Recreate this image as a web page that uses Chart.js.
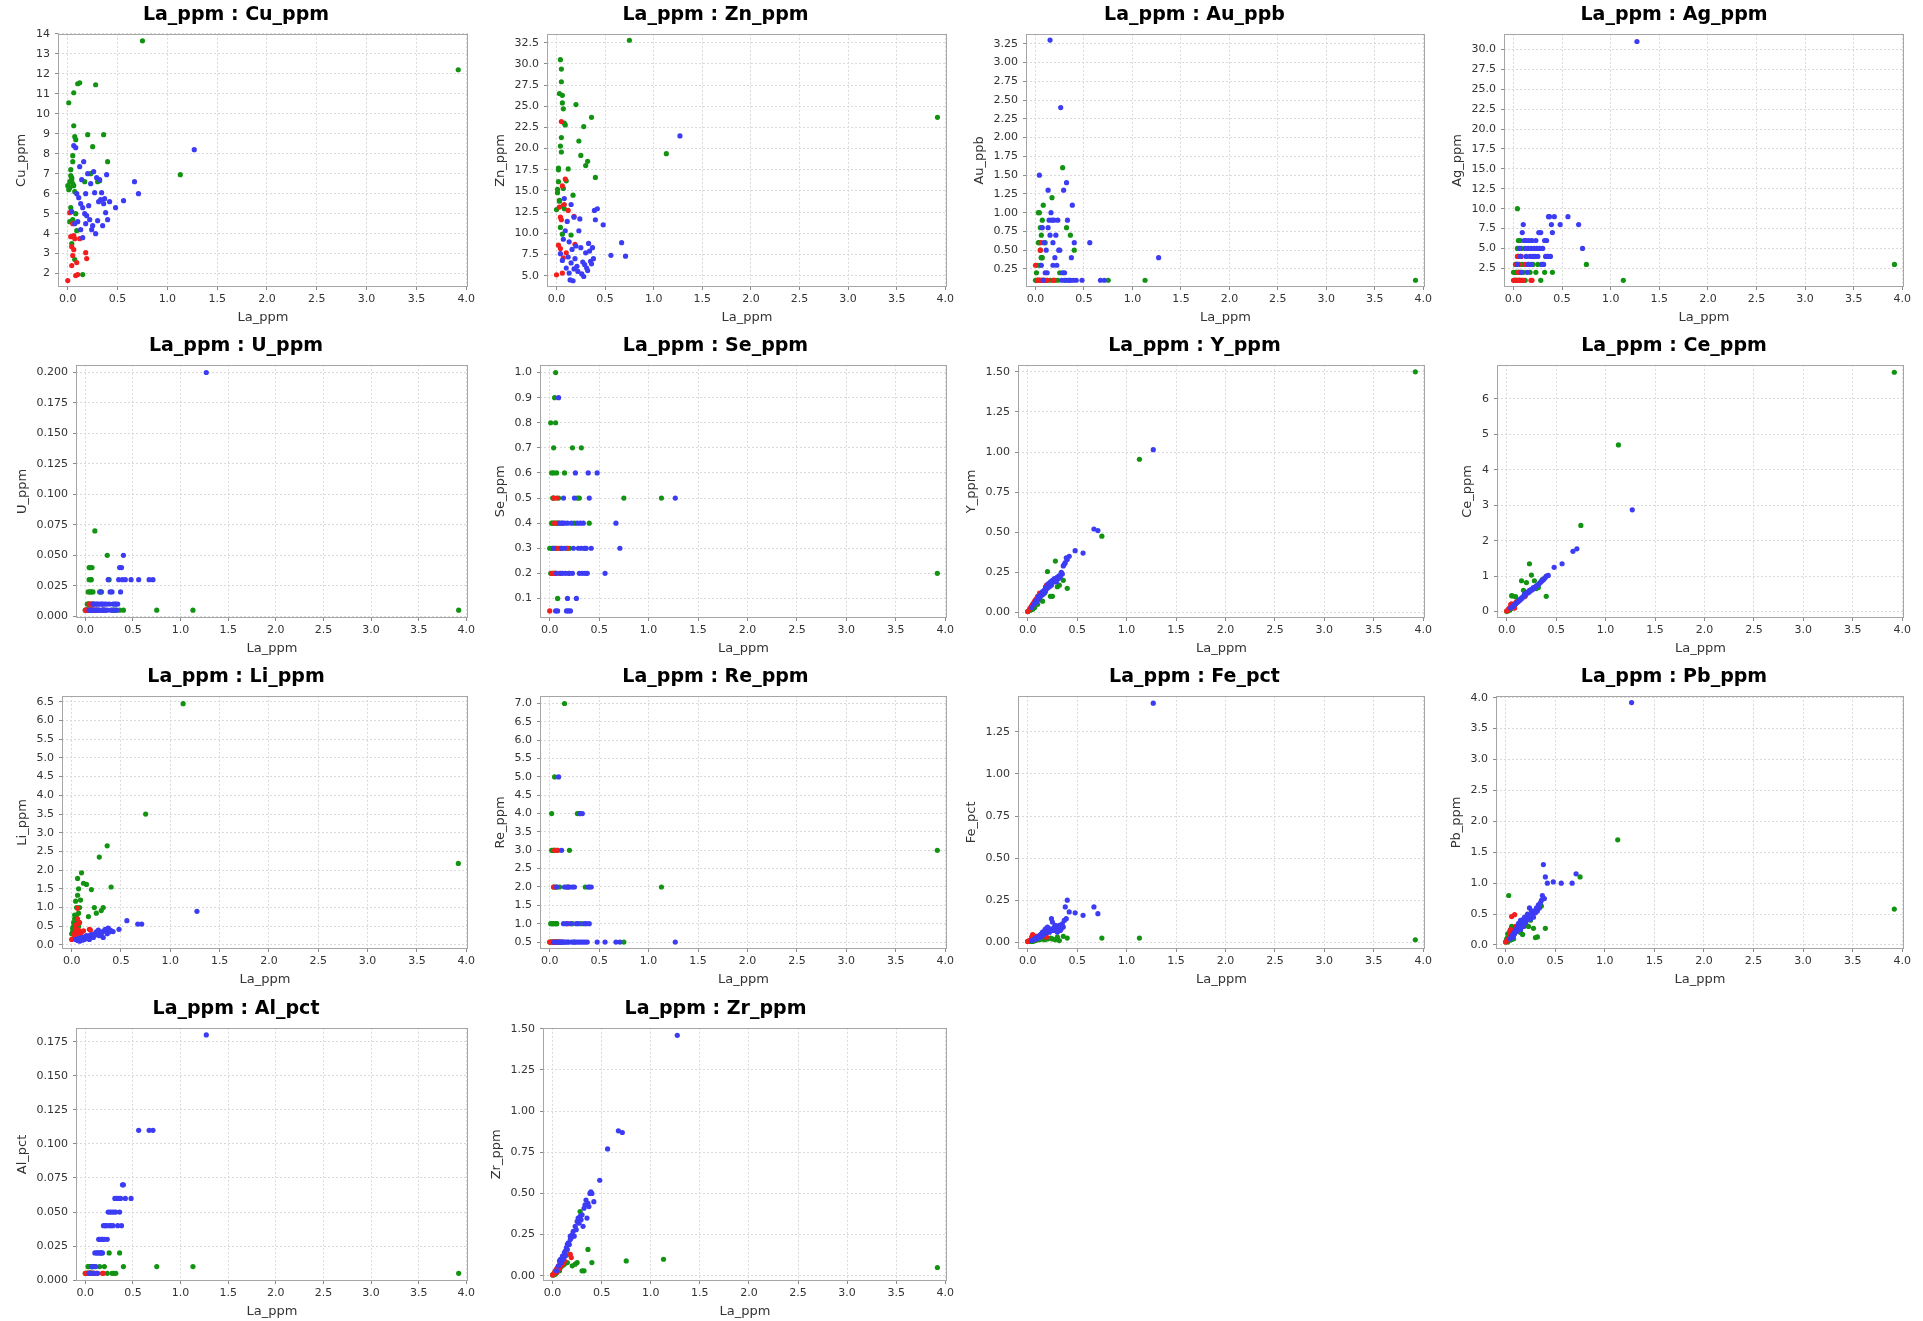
<!DOCTYPE html>
<html>
<head>
<meta charset="utf-8">
<title>La_ppm scatter panels</title>
<script src="https://cdn.jsdelivr.net/npm/chart.js@4.4.1/dist/chart.umd.min.js"></script>
<style>
  html, body { margin: 0; padding: 0; background: #fff; }
  #page { position: relative; width: 1923px; height: 1321px; overflow: hidden; background: #fff; }
  #page canvas { position: absolute; }
</style>
</head>
<body>
<div id="page"></div>
<script>
// La_ppm of each sample, by group
var laGreen = [3.92, 1.13, 0.75, 0.01, 0.02, 0.03, 0.03, 0.04, 0.04, 0.05, 0.05, 0.05, 0.06, 0.06, 0.07, 0.07, 0.08, 0.09, 0.10, 0.12, 0.15, 0.17, 0.20, 0.23, 0.25, 0.28, 0.30, 0.32, 0.36, 0.40, 0.00, 0.01, 0.02, 0.02, 0.03, 0.04, 0.05, 0.06, 0.07, 0.08];
var laBlue = [1.27, 0.71, 0.67, 0.56, 0.48, 0.04, 0.06, 0.07, 0.08, 0.09, 0.10, 0.11, 0.12, 0.13, 0.13, 0.14, 0.15, 0.15, 0.16, 0.17, 0.18, 0.18, 0.19, 0.20, 0.21, 0.22, 0.23, 0.24, 0.25, 0.26, 0.27, 0.28, 0.29, 0.30, 0.31, 0.32, 0.33, 0.34, 0.35, 0.36, 0.37, 0.38, 0.39, 0.40, 0.42];
var laRed = [0.00, 0.02, 0.03, 0.04, 0.04, 0.05, 0.05, 0.06, 0.06, 0.07, 0.08, 0.09, 0.10, 0.12, 0.18, 0.19];

var cuGreen = [12.2, 6.95, 13.65, 10.55, 6.3, 7.2, 5.3, 6.8, 3.5, 7.9, 6.5, 4.7, 11.05, 9.4, 8.85, 2.7, 8.7, 4.15, 11.5, 11.55, 1.95, 6.6, 8.95, 7.0, 8.35, 11.45, 6.6, 6.65, 8.95, 7.6, 6.4, 6.2, 6.6, 4.6, 6.9, 6.7, 7.6, 6.4, 6.1, 5.0];
var cuBlue = [8.2, 6.0, 6.6, 5.65, 5.3, 5.1, 8.4, 4.5, 8.3, 6.0, 4.6, 5.8, 7.35, 4.2, 5.5, 6.7, 5.3, 3.8, 7.6, 5.0, 4.5, 6.0, 4.9, 7.0, 5.4, 4.7, 6.5, 4.2, 4.4, 7.1, 6.05, 4.0, 6.8, 4.65, 5.6, 6.7, 5.7, 6.05, 4.4, 5.5, 5.75, 5.05, 6.95, 4.7, 5.6];
var cuRed = [1.65, 5.05, 3.85, 2.4, 3.35, 2.9, 4.5, 3.9, 3.2, 3.75, 1.9, 2.55, 1.95, 3.75, 3.05, 2.75];

var znGreen = [23.7, 19.4, 32.8, 15.2, 17.7, 26.5, 13.8, 30.5, 20.3, 29.4, 27.9, 19.6, 26.3, 25.4, 24.7, 13.3, 23.0, 22.8, 16.2, 17.6, 9.8, 14.5, 25.2, 20.9, 19.2, 22.6, 18.0, 18.5, 23.7, 16.6, 12.8, 14.8, 16.1, 17.5, 13.9, 10.7, 21.3, 9.9, 15.3, 12.9];
var znBlue = [21.5, 7.3, 8.9, 7.4, 11.0, 7.6, 6.8, 9.3, 14.1, 10.3, 5.9, 11.4, 7.2, 5.3, 9.0, 4.5, 13.4, 6.5, 8.1, 4.4, 11.9, 5.8, 7.0, 8.5, 6.1, 5.5, 10.3, 11.7, 8.3, 5.2, 6.6, 4.9, 6.3, 7.7, 5.9, 5.6, 8.8, 7.9, 6.7, 6.4, 8.3, 7.0, 12.7, 11.6, 12.9];
var znRed = [5.1, 8.6, 13.1, 11.9, 8.2, 11.6, 23.2, 15.6, 5.3, 7.1, 13.4, 16.4, 7.7, 12.7, 12.0, 8.7];

var auGreen = [0.1, 0.1, 0.1, 0.2, 0.1, 1.0, 0.1, 0.6, 1.0, 0.8, 0.3, 0.5, 0.7, 0.4, 0.9, 0.4, 1.1, 0.1, 0.6, 0.1, 0.1, 1.2, 0.1, 0.1, 0.2, 1.6, 0.1, 0.8, 0.7, 0.5, 0.1, 0.1, 0.3, 0.1, 0.6, 0.1, 0.1, 0.4, 0.1, 0.1];
var auBlue = [0.4, 0.1, 0.1, 0.6, 0.1, 1.5, 0.3, 0.8, 0.1, 0.6, 0.2, 0.5, 0.2, 1.3, 0.8, 0.9, 0.7, 3.3, 1.0, 0.9, 0.3, 0.6, 0.9, 0.4, 0.7, 0.3, 0.9, 0.5, 0.5, 2.4, 0.1, 0.2, 1.3, 0.2, 0.1, 1.4, 0.9, 0.1, 0.1, 0.1, 0.4, 1.1, 0.1, 0.6, 0.1];
var auRed = [0.3, 0.1, 0.1, 0.1, 0.1, 0.5, 0.1, 0.1, 0.6, 0.1, 0.1, 0.1, 0.1, 0.1, 0.1, 0.1];

var agGreen = [3, 1, 3, 1, 2, 3, 1, 10, 5, 6, 2, 4, 3, 1, 4, 2, 1, 3, 2, 1, 3, 2, 3, 2, 3, 1, 3, 2, 4, 2, 2, 1, 3, 1, 2, 1, 4, 2, 6, 5];
var agBlue = [31, 5, 8, 9, 8, 3, 5, 4, 2, 7, 8, 6, 5, 4, 6, 2, 5, 3, 6, 4, 5, 3, 6, 4, 5, 4, 6, 5, 4, 7, 5, 7, 3, 5, 3, 6, 4, 6, 4, 9, 9, 4, 8, 7, 9];
var agRed = [1, 1, 3, 4, 1, 2, 3, 1, 1, 1, 4, 1, 1, 3, 1, 1];

var uGreen = [0.005, 0.005, 0.005, 0.005, 0.005, 0.01, 0.005, 0.03, 0.04, 0.02, 0.04, 0.01, 0.03, 0.02, 0.04, 0.005, 0.02, 0.01, 0.07, 0.005, 0.02, 0.02, 0.005, 0.05, 0.03, 0.005, 0.005, 0.005, 0.005, 0.005, 0.005, 0.005, 0.01, 0.005, 0.02, 0.01, 0.005, 0.03, 0.005, 0.01];
var uBlue = [0.2, 0.03, 0.03, 0.03, 0.03, 0.005, 0.005, 0.005, 0.01, 0.005, 0.01, 0.005, 0.01, 0.005, 0.01, 0.005, 0.01, 0.005, 0.02, 0.01, 0.005, 0.01, 0.005, 0.01, 0.005, 0.01, 0.005, 0.03, 0.01, 0.02, 0.005, 0.02, 0.01, 0.005, 0.01, 0.01, 0.005, 0.01, 0.03, 0.04, 0.02, 0.04, 0.03, 0.05, 0.03];
var uRed = [0.005, 0.005, 0.005, 0.005, 0.01, 0.005, 0.005, 0.01, 0.005, 0.01, 0.005, 0.005, 0.005, 0.005, 0.005, 0.005];

var seGreen = [0.2, 0.5, 0.5, 0.8, 0.3, 0.4, 0.5, 0.7, 0.6, 0.9, 0.3, 0.2, 1.0, 0.8, 0.6, 0.4, 0.1, 0.5, 0.3, 0.4, 0.6, 0.3, 0.3, 0.7, 0.4, 0.5, 0.5, 0.7, 0.3, 0.4, 0.3, 0.2, 0.4, 0.6, 0.3, 0.5, 0.4, 0.2, 0.3, 0.4];
var seBlue = [0.5, 0.3, 0.4, 0.2, 0.6, 0.3, 0.05, 0.2, 0.05, 0.9, 0.4, 0.2, 0.3, 0.4, 0.2, 0.5, 0.3, 0.4, 0.2, 0.05, 0.1, 0.4, 0.05, 0.2, 0.05, 0.4, 0.2, 0.3, 0.5, 0.6, 0.1, 0.4, 0.3, 0.2, 0.4, 0.3, 0.2, 0.4, 0.3, 0.2, 0.3, 0.2, 0.6, 0.5, 0.3];
var seRed = [0.05, 0.2, 0.2, 0.2, 0.5, 0.2, 0.4, 0.2, 0.3, 0.5, 0.3, 0.4, 0.2, 0.3, 0.3, 0.2];

var yGreen = [1.5, 0.955, 0.475, 0.01, 0.015, 0.02, 0.015, 0.03, 0.02, 0.025, 0.03, 0.02, 0.04, 0.03, 0.035, 0.03, 0.05, 0.06, 0.05, 0.08, 0.07, 0.12, 0.255, 0.10, 0.10, 0.32, 0.16, 0.17, 0.2, 0.15, 0.005, 0.01, 0.015, 0.02, 0.02, 0.03, 0.035, 0.04, 0.05, 0.06];
var yBlue = [1.015, 0.51, 0.52, 0.37, 0.385, 0.03, 0.05, 0.055, 0.07, 0.065, 0.08, 0.1, 0.09, 0.11, 0.1, 0.12, 0.13, 0.11, 0.12, 0.14, 0.13, 0.15, 0.16, 0.15, 0.18, 0.16, 0.19, 0.17, 0.2, 0.19, 0.21, 0.2, 0.19, 0.22, 0.21, 0.23, 0.22, 0.25, 0.24, 0.29, 0.3, 0.31, 0.34, 0.33, 0.35];
var yRed = [0.005, 0.02, 0.03, 0.04, 0.035, 0.05, 0.045, 0.06, 0.05, 0.07, 0.08, 0.085, 0.1, 0.12, 0.16, 0.17];

var ceGreen = [6.75, 4.7, 2.43, 0.02, 0.05, 0.06, 0.04, 0.08, 0.1, 0.12, 0.45, 0.1, 0.15, 0.44, 0.18, 0.12, 0.2, 0.42, 0.25, 0.3, 0.87, 0.6, 0.82, 1.35, 1.03, 0.87, 0.65, 0.68, 0.9, 0.43, 0.01, 0.03, 0.05, 0.06, 0.08, 0.1, 0.12, 0.13, 0.16, 0.18];
var ceBlue = [2.87, 1.77, 1.7, 1.35, 1.25, 0.1, 0.14, 0.17, 0.2, 0.22, 0.25, 0.27, 0.3, 0.33, 0.31, 0.35, 0.38, 0.36, 0.4, 0.43, 0.45, 0.5, 0.48, 0.52, 0.55, 0.53, 0.6, 0.58, 0.63, 0.62, 0.68, 0.66, 0.7, 0.72, 0.74, 0.76, 0.8, 0.82, 0.85, 0.88, 0.9, 0.93, 0.96, 1.0, 1.02];
var ceRed = [0.02, 0.08, 0.1, 0.12, 0.2, 0.15, 0.22, 0.18, 0.14, 0.2, 0.1, 0.25, 0.28, 0.3, 0.42, 0.45];

var liGreen = [2.18, 6.45, 3.5, 0.35, 0.5, 0.8, 0.6, 1.17, 0.7, 0.5, 1.0, 0.4, 1.78, 1.33, 1.5, 0.85, 0.6, 1.2, 1.93, 1.65, 1.62, 0.76, 1.48, 1.0, 0.85, 2.35, 0.92, 1.0, 2.65, 1.55, 0.3, 0.45, 0.6, 0.35, 0.7, 0.55, 0.8, 0.65, 0.5, 1.0];
var liBlue = [0.9, 0.56, 0.56, 0.65, 0.42, 0.15, 0.12, 0.18, 0.1, 0.15, 0.2, 0.13, 0.17, 0.22, 0.15, 0.2, 0.18, 0.25, 0.22, 0.19, 0.25, 0.15, 0.22, 0.28, 0.25, 0.2, 0.3, 0.27, 0.35, 0.3, 0.4, 0.25, 0.33, 0.3, 0.35, 0.2, 0.38, 0.42, 0.4, 0.3, 0.45, 0.35, 0.4, 0.38, 0.36];
var liRed = [0.15, 0.3, 0.25, 0.45, 0.35, 0.55, 0.3, 0.98, 0.7, 0.4, 0.6, 0.3, 0.35, 0.38, 0.42, 0.4];

var reGreen = [3, 2, 0.5, 0.5, 4, 1, 3, 0.5, 3, 2, 5, 1, 3, 0.5, 2, 1, 3, 0.5, 2, 0.5, 7, 2, 3, 1, 0.5, 4, 4, 1, 2, 2, 0.5, 1, 0.5, 3, 1, 2, 3, 0.5, 1, 0.5];
var reBlue = [0.5, 0.5, 0.5, 0.5, 0.5, 0.5, 0.5, 2, 0.5, 5, 0.5, 0.5, 3, 0.5, 0.5, 1, 0.5, 2, 0.5, 1, 0.5, 2, 0.5, 2, 1, 0.5, 2, 0.5, 2, 0.5, 1, 0.5, 1, 0.5, 4, 0.5, 4, 0.5, 1, 0.5, 1, 0.5, 2, 1, 2];
var reRed = [0.5, 0.5, 0.5, 2, 0.5, 0.5, 3, 0.5, 0.5, 0.5, 3, 0.5, 0.5, 0.5, 1, 2];

var feGreen = [0.015, 0.025, 0.025, 0.005, 0.01, 0.005, 0.01, 0.01, 0.005, 0.015, 0.01, 0.005, 0.01, 0.015, 0.02, 0.01, 0.01, 0.015, 0.02, 0.015, 0.02, 0.015, 0.02, 0.025, 0.02, 0.015, 0.03, 0.01, 0.035, 0.025, 0.005, 0.005, 0.01, 0.005, 0.01, 0.01, 0.015, 0.01, 0.02, 0.015];
var feBlue = [1.42, 0.17, 0.21, 0.16, 0.175, 0.01, 0.015, 0.02, 0.025, 0.02, 0.03, 0.035, 0.04, 0.03, 0.045, 0.05, 0.04, 0.06, 0.05, 0.07, 0.06, 0.08, 0.055, 0.09, 0.07, 0.06, 0.08, 0.14, 0.12, 0.07, 0.09, 0.1, 0.08, 0.06, 0.09, 0.1, 0.07, 0.08, 0.11, 0.09, 0.13, 0.21, 0.14, 0.25, 0.18];
var feRed = [0.005, 0.01, 0.015, 0.02, 0.03, 0.045, 0.02, 0.04, 0.025, 0.03, 0.02, 0.035, 0.03, 0.03, 0.04, 0.03];

var pbGreen = [0.58, 1.7, 1.1, 0.1, 0.05, 0.15, 0.8, 0.2, 0.1, 0.12, 0.25, 0.08, 0.3, 0.18, 0.2, 0.1, 0.15, 0.28, 0.22, 0.3, 0.2, 0.17, 0.35, 0.3, 0.4, 0.27, 0.12, 0.13, 0.63, 0.27, 0.05, 0.08, 0.12, 0.18, 0.1, 0.22, 0.15, 0.25, 0.2, 0.1];
var pbBlue = [3.92, 1.15, 1.0, 1.0, 1.02, 0.1, 0.15, 0.12, 0.2, 0.18, 0.25, 0.22, 0.3, 0.27, 0.35, 0.3, 0.4, 0.25, 0.38, 0.33, 0.42, 0.3, 0.45, 0.36, 0.4, 0.5, 0.45, 0.6, 0.42, 0.55, 0.5, 0.45, 0.55, 0.52, 0.6, 0.55, 0.65, 0.6, 0.68, 0.72, 0.8, 1.3, 0.75, 1.1, 1.0];
var pbRed = [0.05, 0.08, 0.1, 0.15, 0.2, 0.12, 0.25, 0.46, 0.18, 0.2, 0.22, 0.49, 0.3, 0.25, 0.3, 0.35];

var alGreen = [0.005, 0.01, 0.01, 0.005, 0.005, 0.005, 0.01, 0.005, 0.005, 0.005, 0.01, 0.005, 0.005, 0.01, 0.005, 0.005, 0.01, 0.005, 0.01, 0.005, 0.01, 0.02, 0.01, 0.005, 0.02, 0.005, 0.005, 0.005, 0.02, 0.01, 0.005, 0.005, 0.005, 0.005, 0.01, 0.005, 0.005, 0.005, 0.01, 0.005];
var alBlue = [0.18, 0.11, 0.11, 0.11, 0.06, 0.005, 0.005, 0.01, 0.01, 0.005, 0.02, 0.01, 0.02, 0.005, 0.02, 0.03, 0.02, 0.03, 0.02, 0.03, 0.02, 0.03, 0.04, 0.03, 0.04, 0.04, 0.03, 0.05, 0.04, 0.05, 0.04, 0.05, 0.04, 0.05, 0.06, 0.05, 0.06, 0.04, 0.06, 0.05, 0.06, 0.04, 0.07, 0.07, 0.06];
var alRed = [0.005, 0.005, 0.005, 0.005, 0.005, 0.005, 0.005, 0.005, 0.005, 0.005, 0.005, 0.005, 0.005, 0.005, 0.005, 0.005];

var zrGreen = [0.05, 0.1, 0.09, 0.005, 0.01, 0.02, 0.01, 0.03, 0.02, 0.04, 0.05, 0.03, 0.05, 0.04, 0.06, 0.03, 0.05, 0.07, 0.06, 0.07, 0.08, 0.13, 0.06, 0.07, 0.08, 0.39, 0.03, 0.03, 0.16, 0.08, 0.005, 0.01, 0.02, 0.015, 0.03, 0.02, 0.04, 0.03, 0.05, 0.06];
var zrBlue = [1.46, 0.87, 0.88, 0.77, 0.58, 0.03, 0.06, 0.09, 0.1, 0.08, 0.12, 0.1, 0.14, 0.15, 0.12, 0.17, 0.19, 0.16, 0.2, 0.19, 0.22, 0.24, 0.23, 0.25, 0.27, 0.24, 0.3, 0.28, 0.33, 0.35, 0.32, 0.36, 0.34, 0.37, 0.3, 0.41, 0.43, 0.46, 0.35, 0.44, 0.42, 0.5, 0.51, 0.5, 0.45];
var zrRed = [0.005, 0.02, 0.03, 0.04, 0.02, 0.05, 0.03, 0.06, 0.04, 0.05, 0.08, 0.06, 0.07, 0.09, 0.13, 0.11];

var panels = [
  { name: 'Cu_ppm', g: cuGreen, b: cuBlue, r: cuRed },
  { name: 'Zn_ppm', g: znGreen, b: znBlue, r: znRed },
  { name: 'Au_ppb', g: auGreen, b: auBlue, r: auRed },
  { name: 'Ag_ppm', g: agGreen, b: agBlue, r: agRed },
  { name: 'U_ppm', g: uGreen, b: uBlue, r: uRed },
  { name: 'Se_ppm', g: seGreen, b: seBlue, r: seRed },
  { name: 'Y_ppm', g: yGreen, b: yBlue, r: yRed },
  { name: 'Ce_ppm', g: ceGreen, b: ceBlue, r: ceRed },
  { name: 'Li_ppm', g: liGreen, b: liBlue, r: liRed },
  { name: 'Re_ppm', g: reGreen, b: reBlue, r: reRed },
  { name: 'Fe_pct', g: feGreen, b: feBlue, r: feRed },
  { name: 'Pb_ppm', g: pbGreen, b: pbBlue, r: pbRed },
  { name: 'Al_pct', g: alGreen, b: alBlue, r: alRed },
  { name: 'Zr_ppm', g: zrGreen, b: zrBlue, r: zrRed }
];

// y axis: min, max, tick step, decimals
var yAxes = [
  [1.33, 14.0, 1, 0], [3.66, 33.56, 2.5, 1], [0.01, 3.383, 0.25, 2], [0.16, 31.97, 2.5, 1],
  [-0.0014, 0.2063, 0.025, 3], [0.022, 1.031, 0.1, 1], [-0.035, 1.544, 0.25, 2], [-0.18, 6.96, 1, 0],
  [-0.107, 6.66, 0.5, 1], [0.31, 7.21, 0.5, 1], [-0.04, 1.464, 0.25, 2], [-0.065, 4.03, 0.5, 1],
  [-0.0006, 0.1852, 0.025, 3], [-0.032, 1.506, 0.25, 2]
];
var xAxis = [-0.098, 4.018, 0.5, 1];

// grid of panels
var colX = [0, 480, 960, 1440];
var rowY = [0, 331, 662, 994];
var colRight = [468, 467, 465, 464];
var plotLeft = [58, 67, 66, 64, 76, 60, 58, 57, 62, 60, 58, 56, 76, 63];
var cellW = 481, cellH = 328, padLeft = 4;

var colors = { g: '#129412', b: '#3c3cf5', r: '#f41e1e' };

Chart.defaults.font.family = 'DejaVu Sans';

function tickValues(min, max, step) {
  var out = [];
  for (var k = Math.ceil(min / step - 1e-6); k * step <= max + step * 1e-6; k++) {
    out.push(k * step);
  }
  return out;
}

var measureCtx = document.createElement('canvas').getContext('2d');
measureCtx.font = '11px "DejaVu Sans"';
function labelWidth(ax) {
  var w = 0;
  tickValues(ax[0], ax[1], ax[2]).forEach(function (v) {
    w = Math.max(w, measureCtx.measureText(v.toFixed(ax[3])).width);
  });
  return w;
}

function series(la, vals, color) {
  return {
    data: la.map(function (x, k) { return { x: x, y: vals[k] }; }),
    backgroundColor: color,
    borderWidth: 0,
    pointRadius: 2.6,
    pointHoverRadius: 2.6
  };
}

var framePlugin = {
  id: 'frame',
  afterDatasetsDraw: function (chart) {
    var a = chart.chartArea, ctx = chart.ctx;
    ctx.save();
    ctx.strokeStyle = '#a6a6a6';
    ctx.lineWidth = 1;
    ctx.strokeRect(Math.round(a.left) + 0.5, Math.round(a.top) + 0.5,
      Math.round(a.right) - Math.round(a.left) - 1, Math.round(a.bottom) - Math.round(a.top) - 1);
    ctx.restore();
  }
};

var page = document.getElementById('page');

panels.forEach(function (p, i) {
  var col = i % 4, row = Math.floor(i / 4);
  var canvas = document.createElement('canvas');
  canvas.width = cellW;
  canvas.height = cellH;
  canvas.style.left = colX[col] + 'px';
  canvas.style.top = rowY[row] + 'px';
  canvas.style.width = cellW + 'px';
  canvas.style.height = cellH + 'px';
  page.appendChild(canvas);

  var ax = yAxes[i];
  var yWidth = plotLeft[i] - padLeft;
  var titlePad = Math.max(0, yWidth - 15.6 - 6.5 - labelWidth(ax) - 8);

  // first dataset is drawn on top
  new Chart(canvas, {
    type: 'scatter',
    data: {
      datasets: [
        series(laBlue, p.b, colors.b),
        series(laRed, p.r, colors.r),
        series(laGreen, p.g, colors.g)
      ]
    },
    options: {
      responsive: false,
      maintainAspectRatio: false,
      animation: false,
      events: [],
      devicePixelRatio: 1,
      layout: { padding: { left: padLeft, right: cellW - colRight[col], top: 0, bottom: 0 } },
      plugins: {
        legend: { display: false },
        tooltip: { enabled: false },
        title: {
          display: true,
          text: 'La_ppm : ' + p.name,
          color: '#000',
          font: { size: 19, weight: 'bold' },
          padding: { top: 4, bottom: 7 }
        }
      },
      scales: {
        x: {
          type: 'linear',
          position: 'bottom',
          bounds: 'data',
          min: xAxis[0],
          max: xAxis[1],
          afterBuildTicks: function (s) {
            s.ticks = tickValues(s.min, s.max, xAxis[2]).map(function (v) { return { value: v }; });
          },
          afterFit: function (s) { s.height = 41; },
          ticks: {
            autoSkip: false, maxRotation: 0, padding: 3, color: '#333', font: { size: 11 },
            callback: function (v) { return Number(v).toFixed(xAxis[3]); }
          },
          grid: { color: '#d9d9d9', lineWidth: 1, tickLength: 3, tickColor: '#8a8a8a', tickBorderDash: [] },
          border: { display: false, dash: [2, 2] },
          title: { display: true, text: 'La_ppm', color: '#333', font: { size: 13 }, padding: { top: 4, bottom: 3 } }
        },
        y: {
          type: 'linear',
          position: 'left',
          bounds: 'data',
          min: ax[0],
          max: ax[1],
          afterBuildTicks: function (s) {
            s.ticks = tickValues(s.min, s.max, ax[2]).map(function (v) { return { value: v }; });
          },
          afterFit: function (s) { s.width = yWidth; },
          ticks: {
            autoSkip: false, padding: 5, color: '#333', font: { size: 11 },
            callback: function (v) { return Number(v).toFixed(ax[3]); }
          },
          grid: { color: '#d9d9d9', lineWidth: 1, tickLength: 3, tickColor: '#8a8a8a', tickBorderDash: [] },
          border: { display: false, dash: [2, 2] },
          title: { display: true, text: p.name, color: '#333', font: { size: 13 }, padding: { top: titlePad, bottom: 6.5 } }
        }
      }
    },
    plugins: [framePlugin]
  });
});
</script>
</body>
</html>
